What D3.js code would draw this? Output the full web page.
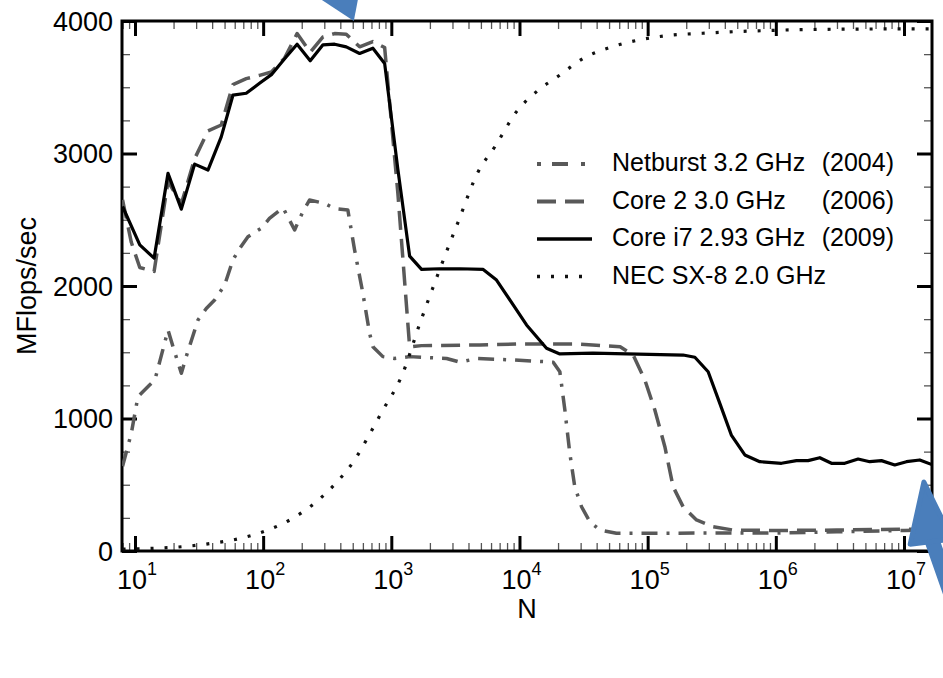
<!DOCTYPE html>
<html>
<head>
<meta charset="utf-8">
<script src="https://cdn.jsdelivr.net/npm/d3@7"></script>
<style>
  body { margin: 0; background: #fff; }
  svg { display: block; font-family: "Liberation Sans", Arial, sans-serif; }
</style>
</head>
<body>
<svg id="chart" width="943" height="678"></svg>
<script>
// Values (N, MFlops/sec)
const netburstN = [8, 9.36, 10.55, 13.0, 14.3, 15.6, 18.1, 19.8, 23.0, 25.1, 31.0, 36.0, 41.8, 50.1, 58.1, 65.6, 76.1, 96.6, 112, 143,
  176, 204, 230, 302, 361, 458, 517, 600, 677, 718, 859, 1061, 1397, 2700, 3430, 4620, 8930, 18320, 20650, 22600,
  24700, 27000, 30500, 35400, 42400, 57100, 1e6, 3e6, 1e7, 1.687e7];
const netburstV = [640, 888, 1165, 1253, 1291, 1429, 1668, 1542, 1341, 1467, 1743, 1830, 1894, 2008, 2196, 2284, 2372, 2436, 2510, 2590,
  2423, 2561, 2649, 2623, 2585, 2574, 2272, 1945, 1643, 1542, 1467, 1453, 1467, 1453, 1425, 1453, 1442, 1425, 1353, 1064,
  737, 485, 334, 221, 158, 134, 136, 145, 155, 160];

const core2N = [8, 9.36, 10.9, 14.1, 18.1, 23, 29.2, 37.1, 47.1, 58.1, 73.8, 93.7, 116, 147, 184, 233, 293, 361, 445, 566,
  718, 887, 1125, 1390, 1722, 4910, 10000, 29300, 61000, 77100, 95100, 113800, 136200, 158000, 189000, 240500, 324000, 464500, 1e6, 3e6,
  1e7, 1.687e7];
const core2V = [2650, 2330, 2140, 2110, 2790, 2620, 2960, 3170, 3215, 3520, 3565, 3590, 3615, 3720, 3905, 3765, 3880, 3905, 3900, 3805,
  3845, 3800, 2700, 1540, 1550, 1555, 1562, 1562, 1542, 1479, 1291, 1064, 787, 485, 334, 234, 184, 158, 155, 158,
  165, 165];

const corei7N = [8, 10.9, 14.1, 18.1, 23, 29.2, 37.1, 47.1, 58.1, 73.8, 93.7, 116, 147, 184, 233, 293, 361, 445, 566, 718,
  887, 1125, 1390, 1722, 2390, 3430, 5210, 6620, 8930, 11350, 16250, 20650, 37400, 189000, 233500, 296500, 365600, 451000, 573000, 750000,
  1.107e6, 1.449e6, 1.786e6, 2.203e6, 2.716e6, 3.45e6, 4.385e6, 5.41e6, 6.67e6, 8.47e6, 1.045e7, 1.327e7, 1.687e7];
const corei7V = [2600, 2310, 2210, 2850, 2580, 2920, 2875, 3125, 3440, 3455, 3530, 3595, 3715, 3825, 3700, 3820, 3825, 3805, 3755, 3795,
  3680, 2880, 2225, 2125, 2130, 2130, 2125, 2045, 1857, 1706, 1530, 1487, 1494, 1479, 1462, 1353, 1114, 872, 725, 674,
  662, 682, 682, 704, 662, 662, 694, 674, 682, 649, 674, 687, 649];

const necN = [8, 14, 23.7, 39.9, 66.7, 109, 174, 264, 378, 517, 665, 845, 1216, 1671, 2323, 3326, 4762, 6425, 9490, 13590,
  20650, 31400, 50700, 84300, 140300, 3e5, 1e6, 3e6, 1e7, 1.687e7];
const necV = [15, 20, 33, 58, 96, 158, 252, 377, 523, 687, 868, 1051, 1330, 1718, 2095, 2485, 2863, 3051, 3316, 3467,
  3592, 3718, 3800, 3856, 3889, 3910, 3930, 3938, 3940, 3940];

const seriesNames = ["Netburst 3.2 GHz", "Core 2 3.0 GHz", "Core i7 2.93 GHz", "NEC SX-8 2.0 GHz"];
const seriesYears = ["(2004)", "(2006)", "(2009)", ""];
const yTicks = [0, 1000, 2000, 3000, 4000];
const xDecades = [1, 2, 3, 4, 5, 6, 7];

// styles for each series, same order as the names
const styles = [
  {color: "#595959", width: 3.5, dash: "16,9,3,9"},
  {color: "#595959", width: 3.5, dash: "19,9"},
  {color: "#000000", width: 3.2, dash: null},
  {color: "#111111", width: 3.2, dash: "3,11"}
];

const svg = d3.select("#chart");
const pLeft = 122, pRight = 932, pTop = 21, pBottom = 551;

const x = d3.scaleLog().domain([7.92, 1.654e7]).range([pLeft, pRight]);
const y = d3.scaleLinear().domain([0, 4000]).range([pBottom, pTop]);

svg.append("rect").attr("width", 943).attr("height", 678).attr("fill", "#fff");

svg.append("clipPath").attr("id", "plot-clip")
  .append("rect").attr("x", pLeft).attr("y", pTop)
  .attr("width", pRight - pLeft).attr("height", pBottom - pTop);

// minor ticks
let xMinor = [];
for (let d = 0; d <= 7; d++) {
  for (let m = 2; m <= 9; m++) {
    let v = m * Math.pow(10, d);
    if (v > x.domain()[0] && v < x.domain()[1]) xMinor.push(v);
  }
}
const yMinor = d3.range(250, 4000, 250).filter(v => v % 1000 !== 0);
const xMajor = xDecades.map(d => Math.pow(10, d));

function styleAxis(g, major) {
  g.select(".domain").remove();
  g.selectAll(".tick line")
    .attr("stroke", major ? "#000" : "#555")
    .attr("stroke-width", major ? 3 : 1.3);
  g.selectAll(".tick text").remove();
}

const axes = [
  [d3.axisBottom(x), `translate(0,${pBottom})`, xMajor, xMinor],
  [d3.axisTop(x), `translate(0,${pTop})`, xMajor, xMinor],
  [d3.axisLeft(y), `translate(${pLeft},0)`, yTicks, yMinor],
  [d3.axisRight(y), `translate(${pRight},0)`, yTicks, yMinor]
];
axes.forEach(([axis, tr, majors, minors]) => {
  svg.append("g").attr("transform", tr)
    .call(axis.tickValues(minors).tickSize(-8).tickFormat(""))
    .call(g => styleAxis(g, false));
  svg.append("g").attr("transform", tr)
    .call(axis.tickValues(majors).tickSize(-15).tickFormat(""))
    .call(g => styleAxis(g, true));
});

// frame
svg.append("rect")
  .attr("x", pLeft).attr("y", pTop)
  .attr("width", pRight - pLeft).attr("height", pBottom - pTop)
  .attr("fill", "none").attr("stroke", "#000").attr("stroke-width", 3);

// y labels
svg.selectAll("text.ylab").data(yTicks).enter()
  .append("text").attr("class", "ylab")
  .attr("x", pLeft - 9).attr("y", d => y(d))
  .attr("dy", "0.36em").attr("text-anchor", "end")
  .attr("font-size", 27).text(d => d);

// x labels as 10^k
let xl = svg.selectAll("text.xlab").data(xDecades).enter()
  .append("text").attr("class", "xlab")
  .attr("x", d => x(Math.pow(10, d)) + 2).attr("y", 589)
  .attr("text-anchor", "middle").attr("font-size", 27);
xl.append("tspan").text("10");
xl.append("tspan").attr("dy", -14).attr("font-size", 18).text(d => d);

svg.append("text")
  .attr("x", (pLeft + pRight) / 2).attr("y", 618)
  .attr("text-anchor", "middle").attr("font-size", 27).text("N");

svg.append("text")
  .attr("transform", `translate(36,${(pTop + pBottom) / 2}) rotate(-90)`)
  .attr("text-anchor", "middle").attr("font-size", 27).text("MFlops/sec");

// curves
const series = [
  d3.zip(netburstN, netburstV),
  d3.zip(core2N, core2V),
  d3.zip(corei7N, corei7V),
  d3.zip(necN, necV)
];
const line = d3.line().x(d => x(d[0])).y(d => y(d[1]));
const smooth = d3.line().x(d => x(d[0])).y(d => y(d[1])).curve(d3.curveMonotoneX);

const plot = svg.append("g").attr("clip-path", "url(#plot-clip)");
series.forEach((s, i) => {
  plot.append("path")
    .attr("d", i === 3 ? smooth(s) : line(s))
    .attr("fill", "none")
    .attr("stroke", styles[i].color)
    .attr("stroke-width", styles[i].width)
    .attr("stroke-dasharray", styles[i].dash)
    .attr("stroke-linejoin", "round");
});

// legend
const legend = svg.append("g");
seriesNames.forEach((name, i) => {
  let by = 171 + i * 37.5;
  legend.append("line")
    .attr("x1", 537).attr("x2", 592)
    .attr("y1", by - 7).attr("y2", by - 7)
    .attr("stroke", styles[i].color)
    .attr("stroke-width", styles[i].width + 0.3)
    .attr("stroke-dasharray", i === 0 ? "4,11,16,13,4,20" : styles[i].dash);
  legend.append("text").attr("x", 612).attr("y", by)
    .attr("font-size", 25).text(name);
  legend.append("text").attr("x", 894).attr("y", by)
    .attr("text-anchor", "end").attr("font-size", 25).text(seriesYears[i]);
});

// blue annotation arrows
const blue = "#4a7ebb";
function arrowHead(tip, dir, len, half) {
  let n = Math.hypot(dir[0], dir[1]);
  let d = [dir[0] / n, dir[1] / n], p = [-d[1], d[0]];
  let b = [tip[0] + d[0] * len, tip[1] + d[1] * len];
  return [tip, [b[0] + p[0] * half, b[1] + p[1] * half], [b[0] - p[0] * half, b[1] - p[1] * half]];
}
const topTip = [x(510), y(4000)];
svg.append("polygon")
  .attr("points", arrowHead(topTip, [-0.39, -0.92], 45, 30).join(" "))
  .attr("fill", blue);

const botTip = [x(1.43e7), y(520)];
const head = arrowHead(botTip, [0.12, 1], 60, 21);
const base = [(head[1][0] + head[2][0]) / 2, (head[1][1] + head[2][1]) / 2];
svg.append("line")
  .attr("x1", base[0]).attr("y1", base[1] - 4)
  .attr("x2", base[0] + 0.36 * 150).attr("y2", base[1] + 150)
  .attr("stroke", blue).attr("stroke-width", 15).attr("stroke-linecap", "round");
svg.append("polygon")
  .attr("points", head.join(" "))
  .attr("fill", blue).attr("stroke", blue)
  .attr("stroke-width", 5).attr("stroke-linejoin", "round");
</script>
</body>
</html>
